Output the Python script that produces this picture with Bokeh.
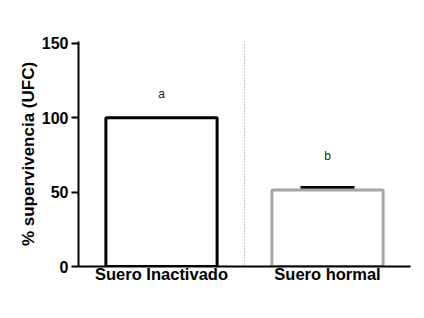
from bokeh.plotting import figure
from bokeh.models import FactorRange, Range1d, Span, Whisker, TeeHead, ColumnDataSource, FixedTicker
from bokeh.core.properties import value
from bokeh.embed import file_html
from bokeh.resources import INLINE

categories = ["Suero Inactivado", "Suero hormal"]
means = [100, 51.5]
sems = [0, 1.3]
bar_colors = ["#000000", "#a6a6a6"]
letters = ["a", "b"]
letter_y = [116, 74]
y_ticks = [0, 50, 100, 150]

FONT = "Liberation Sans"

p = figure(width=424, height=318, output_backend="svg", toolbar_location=None,
           x_range=FactorRange(factors=categories, range_padding=0),
           y_range=Range1d(0, 151.3),
           min_border_left=78, min_border_right=14, min_border_top=41, min_border_bottom=52)
p.outline_line_color = None
p.grid.grid_line_color = None
p.background_fill_color = "white"
p.border_fill_color = "white"

src = ColumnDataSource(dict(cat=categories, mean=means, color=bar_colors))
p.vbar(x="cat", top="mean", width=0.67, source=src, fill_color="white",
       line_color="color", line_width=3)

err_cats = [c for c, s in zip(categories, sems) if s > 0]
err_lo = [m for m, s in zip(means, sems) if s > 0]
err_hi = [m + s for m, s in zip(means, sems) if s > 0]
esrc = ColumnDataSource(dict(cat=err_cats, lo=err_lo, hi=err_hi))
p.add_layout(Whisker(base="cat", lower="lo", upper="hi", source=esrc,
                     line_color="black", line_width=2,
                     upper_head=TeeHead(size=54, line_width=4, line_color="black"),
                     lower_head=None))

p.add_layout(Span(location=1, dimension="height", line_color="#8a8a8a",
                  line_dash="1 2", line_width=1))

p.text(x=categories, y=letter_y, text=letters, text_align="center",
       text_baseline="middle", text_font=value(FONT), text_font_size="12px",
       text_color="#222222")

# y axis
ya = p.yaxis[0]
ya.ticker = FixedTicker(ticks=y_ticks)
ya.minor_tick_line_color = None
ya.axis_line_width = 2
ya.major_tick_line_width = 2
ya.major_tick_out = 7
ya.major_tick_in = 0
ya.major_label_standoff = 3
ya.major_label_text_font = FONT
ya.major_label_text_font_style = "bold"
ya.major_label_text_font_size = "16px"
ya.major_label_text_color = "black"
ya.axis_label = "% supervivencia (UFC)"
ya.axis_label_text_font = FONT
ya.axis_label_text_font_style = "bold"
ya.axis_label_text_font_size = "17px"
ya.axis_label_text_color = "black"
ya.axis_label_standoff = 1

# x axis
xa = p.xaxis[0]
xa.axis_line_width = 2
xa.major_tick_line_color = None
xa.major_tick_out = 0
xa.major_tick_in = 0
xa.major_label_standoff = -2
xa.major_label_text_font = FONT
xa.major_label_text_font_style = "bold"
xa.major_label_text_font_size = "16.5px"
xa.major_label_text_color = "black"

open("out.html", "w").write(file_html(p, INLINE))
